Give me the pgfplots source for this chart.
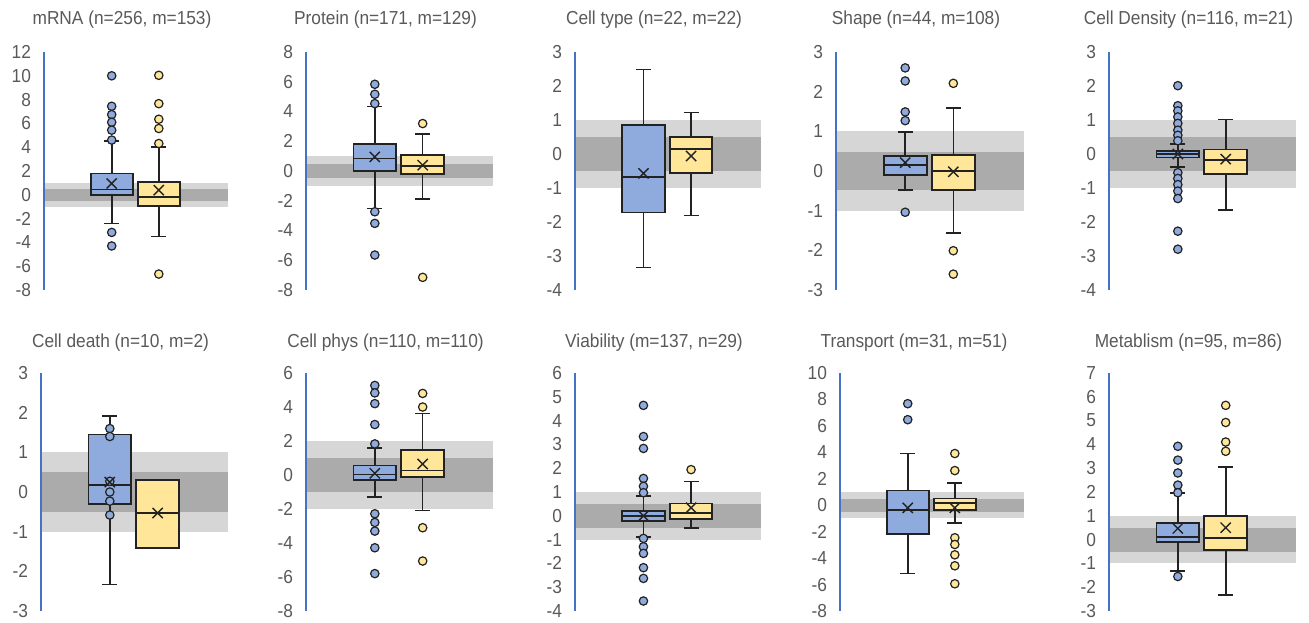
\documentclass[border=0pt]{standalone}
\usepackage{fontspec}
\setmainfont[FakeStretch=0.92]{Liberation Sans}
\usepackage{pgfplots}
\pgfplotsset{compat=1.18}
\usepgfplotslibrary{statistics}
\definecolor{bluefill}{HTML}{8FAADC}
\definecolor{yellowfill}{HTML}{FFE699}
\definecolor{bandlight}{HTML}{D6D6D6}
\definecolor{banddark}{HTML}{ABABAB}
\definecolor{boxline}{HTML}{222222}
\definecolor{axisblue}{HTML}{4472C4}
\definecolor{txtgray}{HTML}{595959}
\pgfplotsset{
  panel/.style={scale only axis, height=119pt, xmin=0, xmax=1,
    axis x line=none, axis y line=left, axis on top,
    axis line style={draw=axisblue, line width=0.7pt, -},
    major tick length=0pt, tick style={draw=none},
    yticklabel style={font=\fontsize{9.4}{10}\selectfont, text=txtgray, xshift=-3pt},
    /pgf/number format/assume math mode=true,
    title style={font=\fontsize{9.4}{10}\selectfont, text=txtgray, anchor=center, at={(0.5,1)}, xshift=-7pt, yshift=10pt},
    anchor=south west},
  boxcommon/.style={draw=boxline, line width=0.9pt, mark=*, mark size=2.1pt,
    boxplot/every whisker/.style={line width=0.8pt},
    boxplot/every median/.style={line width=0.9pt, draw=boxline}},
  bluebox/.style={boxplot prepared={draw direction=y, draw position=0.368, box extend=0.228, whisker extend=0.08, #1},
    boxcommon, fill=bluefill,
    mark options={fill=bluefill, draw=boxline, line width=0.6pt}},
  yellowbox/.style={boxplot prepared={draw direction=y, draw position=0.624, box extend=0.228, whisker extend=0.08, #1},
    boxcommon, fill=yellowfill,
    mark options={fill=yellowfill, draw=boxline, line width=0.6pt}},
}
\newcommand\bands[2]{%
  \addplot[draw=none, fill=bandlight] coordinates {(0,-#1) (1,-#1) (1,#1) (0,#1)} -- cycle;
  \addplot[draw=none, fill=banddark] coordinates {(0,-#2) (1,-#2) (1,#2) (0,#2)} -- cycle;}
\newcommand\means[2]{%
  \addplot[only marks, mark=x, mark size=3.6pt, mark options={draw=boxline, line width=0.7pt}] coordinates {(0.368,#1) (0.624,#2)};}
\begin{document}
\begin{tikzpicture}
\useasboundingbox (0,0) rectangle (654.5pt,311pt);
% ---- Row 1 ----
\begin{axis}[panel, at={(22pt,166pt)}, width=92pt, ymin=-8, ymax=12, ytick={-8,-6,...,12}, title={mRNA (n=256, m=153)}]
\bands{1}{0.5}
\addplot[bluebox={lower whisker=-2.4, lower quartile=0, median=0.45, upper quartile=1.79, upper whisker=4.53}]
  table[row sep=\\, y index=0] {d\\ 10\\ 7.44\\ 6.74\\ 6.1\\ 5.43\\ 4.6\\ -3.16\\ -4.3\\};
\addplot[yellowbox={lower whisker=-3.52, lower quartile=-0.92, median=-0.17, upper quartile=1.09, upper whisker=4.03}]
  table[row sep=\\, y index=0] {d\\ 10.04\\ 7.66\\ 6.35\\ 5.57\\ 4.31\\ -6.66\\};
\means{0.95}{0.39}
\end{axis}
\begin{axis}[panel, at={(153pt,166pt)}, width=93.5pt, ymin=-8, ymax=8, ytick={-8,-6,...,8}, title={Protein (n=171, m=129)}]
\bands{1}{0.5}
\addplot[bluebox={lower whisker=-2.52, lower quartile=0, median=0.84, upper quartile=1.8, upper whisker=4.35}]
  table[row sep=\\, y index=0] {d\\ 5.83\\ 5.16\\ 4.53\\ -2.74\\ -3.52\\ -5.65\\};
\addplot[yellowbox={lower whisker=-1.87, lower quartile=-0.21, median=0.32, upper quartile=1.1, upper whisker=2.47}]
  table[row sep=\\, y index=0] {d\\ 3.19\\ -7.15\\};
\means{0.95}{0.39}
\end{axis}
\begin{axis}[panel, at={(287.5pt,166pt)}, width=93pt, ymin=-4, ymax=3, ytick={-4,...,3}, title={Cell type (n=22, m=22)}]
\bands{1}{0.5}
\addplot[bluebox={lower whisker=-3.34, lower quartile=-1.72, median=-0.68, upper quartile=0.85, upper whisker=2.49}] coordinates {};
\addplot[yellowbox={lower whisker=-1.81, lower quartile=-0.56, median=0.14, upper quartile=0.49, upper whisker=1.22}] coordinates {};
\means{-0.57}{-0.06}
\end{axis}
\begin{axis}[panel, at={(418pt,166pt)}, width=94pt, ymin=-3, ymax=3, ytick={-3,...,3}, title={Shape (n=44, m=108)}]
\bands{1}{0.47}
\addplot[bluebox={lower whisker=-0.48, lower quartile=-0.1, median=0.16, upper quartile=0.37, upper whisker=0.99}]
  table[row sep=\\, y index=0] {d\\ 2.6\\ 2.27\\ 1.49\\ 1.27\\ -1.04\\};
\addplot[yellowbox={lower whisker=-1.56, lower quartile=-0.48, median=0, upper quartile=0.4, upper whisker=1.59}]
  table[row sep=\\, y index=0] {d\\ 2.21\\ -2.01\\ -2.6\\};
\means{0.21}{-0.02}
\end{axis}
\begin{axis}[panel, at={(554.5pt,166pt)}, width=93.5pt, ymin=-4, ymax=3, ytick={-4,...,3}, title={Cell Density (n=116, m=21)}]
\bands{1}{0.5}
\addplot[bluebox={lower whisker=-0.38, lower quartile=-0.1, median=0, upper quartile=0.09, upper whisker=0.29}]
  table[row sep=\\, y index=0] {d\\ 2.01\\ 1.42\\ 1.27\\ 1.09\\ 0.9\\ 0.7\\ 0.55\\ 0.39\\ -0.55\\ -0.72\\ -0.9\\ -1.09\\ -1.31\\ -2.27\\ -2.8\\};
\addplot[yellowbox={lower whisker=-1.65, lower quartile=-0.59, median=-0.18, upper quartile=0.13, upper whisker=1.01}] coordinates {};
\means{0}{-0.15}
\end{axis}
% ---- Row 2 ----
\begin{axis}[panel, at={(20.5pt,5.5pt)}, width=93.5pt, ymin=-3, ymax=3, ytick={-3,...,3}, title style={yshift=-1pt}, title={Cell death (n=10, m=2)}]
\bands{1}{0.5}
\addplot[bluebox={lower whisker=-2.33, lower quartile=-0.31, median=0.17, upper quartile=1.45, upper whisker=1.91}]
  table[row sep=\\, y index=0] {d\\ 1.6\\ 1.4\\ 0.27\\ 0\\ -0.23\\ -0.58\\};
\addplot[yellowbox={lower whisker=-1.41, lower quartile=-1.41, median=-0.53, upper quartile=0.31, upper whisker=0.31}] coordinates {};
\means{0.25}{-0.53}
\end{axis}
\begin{axis}[panel, at={(153pt,5.5pt)}, width=93.5pt, ymin=-8, ymax=6, ytick={-8,-6,...,6}, title style={yshift=-1pt}, title={Cell phys (n=110, m=110)}]
\bands{2}{1}
\addplot[bluebox={lower whisker=-1.3, lower quartile=-0.27, median=0.03, upper quartile=0.56, upper whisker=1.59}]
  table[row sep=\\, y index=0] {d\\ 5.27\\ 4.83\\ 4.2\\ 2.97\\ 1.83\\ -2.28\\ -2.79\\ -3.3\\ -4.28\\ -5.8\\};
\addplot[yellowbox={lower whisker=-2.09, lower quartile=-0.11, median=0.26, upper quartile=1.48, upper whisker=3.63}]
  table[row sep=\\, y index=0] {d\\ 4.8\\ 4.0\\ -3.1\\ -5.06\\};
\means{0.1}{0.65}
\end{axis}
\begin{axis}[panel, at={(287.5pt,5.5pt)}, width=93pt, ymin=-4, ymax=6, ytick={-4,...,6}, title style={yshift=-1pt}, title={Viability (m=137, n=29)}]
\bands{1}{0.5}
\addplot[bluebox={lower whisker=-0.9, lower quartile=-0.22, median=0, upper quartile=0.2, upper whisker=0.83}]
  table[row sep=\\, y index=0] {d\\ 4.64\\ 3.33\\ 2.83\\ 1.57\\ 1.24\\ 0.97\\ -0.95\\ -1.3\\ -1.58\\ -2.18\\ -2.63\\ -3.58\\};
\addplot[yellowbox={lower whisker=-0.5, lower quartile=-0.13, median=0.11, upper quartile=0.52, upper whisker=1.44}]
  table[row sep=\\, y index=0] {d\\ 1.94\\};
\means{0}{0.34}
\end{axis}
\begin{axis}[panel, at={(420pt,5.5pt)}, width=92pt, ymin=-8, ymax=10, ytick={-8,-6,...,10}, title style={yshift=-1pt, xshift=-2pt}, title={Transport (m=31, m=51)}]
\bands{1}{0.5}
\addplot[bluebox={lower whisker=-5.15, lower quartile=-2.16, median=-0.37, upper quartile=1.11, upper whisker=3.91}]
  table[row sep=\\, y index=0] {d\\ 7.68\\ 6.47\\};
\addplot[yellowbox={lower whisker=-1.33, lower quartile=-0.37, median=0.18, upper quartile=0.51, upper whisker=1.69}]
  table[row sep=\\, y index=0] {d\\ 3.91\\ 2.62\\ -2.46\\ -2.97\\ -3.75\\ -4.58\\ -5.94\\};
\means{-0.2}{-0.2}
\end{axis}
\begin{axis}[panel, at={(554.5pt,5.5pt)}, width=93.5pt, ymin=-3, ymax=7, ytick={-3,...,7}, title style={yshift=-1pt}, title={Metablism (n=95, m=86)}]
\bands{1}{0.5}
\addplot[bluebox={lower whisker=-1.32, lower quartile=-0.1, median=0.1, upper quartile=0.71, upper whisker=1.97}]
  table[row sep=\\, y index=0] {d\\ 3.92\\ 3.34\\ 2.8\\ 2.29\\ 1.97\\ -1.55\\};
\addplot[yellowbox={lower whisker=-2.34, lower quartile=-0.43, median=0.08, upper quartile=1.0, upper whisker=3.04}]
  table[row sep=\\, y index=0] {d\\ 5.64\\ 4.92\\ 4.1\\ 3.71\\};
\means{0.47}{0.5}
\end{axis}
\end{tikzpicture}
\end{document}
